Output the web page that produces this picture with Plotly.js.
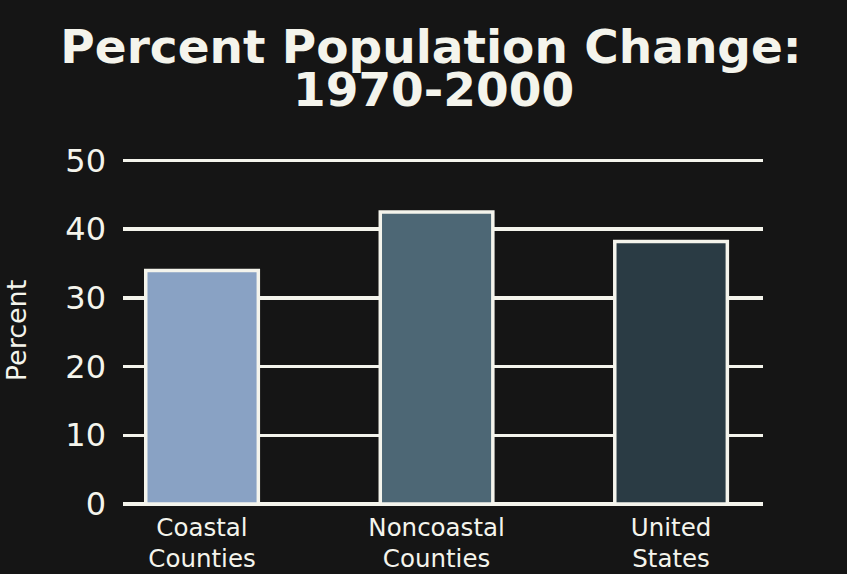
<!DOCTYPE html>
<html>
<head>
<meta charset="utf-8">
<script src="https://cdn.plot.ly/plotly-3.0.1.min.js"></script>
<style>
  html, body { margin: 0; padding: 0; background: #151515; }
  #chart { width: 847px; height: 574px; }
</style>
</head>
<body>
<div id="chart"></div>
<script>
const categories = ["Coastal<br>Counties", "Noncoastal<br>Counties", "United<br>States"];
const percentChange = [34, 42.5, 38.2];
const barColors = ["#89a2c4", "#4d6775", "#2a3b44"];
const yTicks = [0, 10, 20, 30, 40, 50];

const ink = "#f4f4ec";
const font = "DejaVu Sans, Verdana, sans-serif";

const trace = {
  type: "bar",
  x: categories,
  y: percentChange,
  width: 0.48,
  marker: { color: barColors, line: { color: ink, width: 3.5 } },
  hoverinfo: "x+y"
};

const layout = {
  width: 847,
  height: 574,
  paper_bgcolor: "#151515",
  plot_bgcolor: "#151515",
  margin: { l: 123, r: 84, t: 156.6, b: 70 },
  showlegend: false,
  title: {
    text: "<b>Percent Population Change:</b>",
    font: { family: font, size: 47, color: ink },
    x: 431 / 847, xanchor: "center",
    y: 1 - 47 / 574, yanchor: "middle", yref: "container"
  },
  annotations: [{
    text: "<b>1970-2000</b>",
    showarrow: false,
    xref: "paper", yref: "paper",
    x: (433 - 123) / 640, xanchor: "center",
    y: 1 + (156.6 - 89) / 347.4, yanchor: "middle",
    font: { family: font, size: 47, color: ink }
  }],
  xaxis: {
    type: "category",
    range: [-0.337, 2.392],
    showgrid: false,
    zeroline: false,
    showline: false,
    ticks: "",
    ticklabelstandoff: 6,
    tickfont: { family: font, size: 24.5, color: ink },
    fixedrange: true
  },
  yaxis: {
    range: [0, 50.5],
    tickvals: yTicks,
    ticktext: yTicks.map(String),
    showgrid: true,
    gridcolor: ink,
    gridwidth: 3.5,
    zeroline: true,
    zerolinecolor: ink,
    zerolinewidth: 3.5,
    showline: false,
    ticks: "",
    ticklabelstandoff: 16,
    tickfont: { family: font, size: 32, color: ink },
    title: { text: "Percent", font: { family: font, size: 27, color: ink }, standoff: 30 },
    fixedrange: true
  }
};

Plotly.newPlot("chart", [trace], layout, { displayModeBar: false, staticPlot: true });
</script>
</body>
</html>
